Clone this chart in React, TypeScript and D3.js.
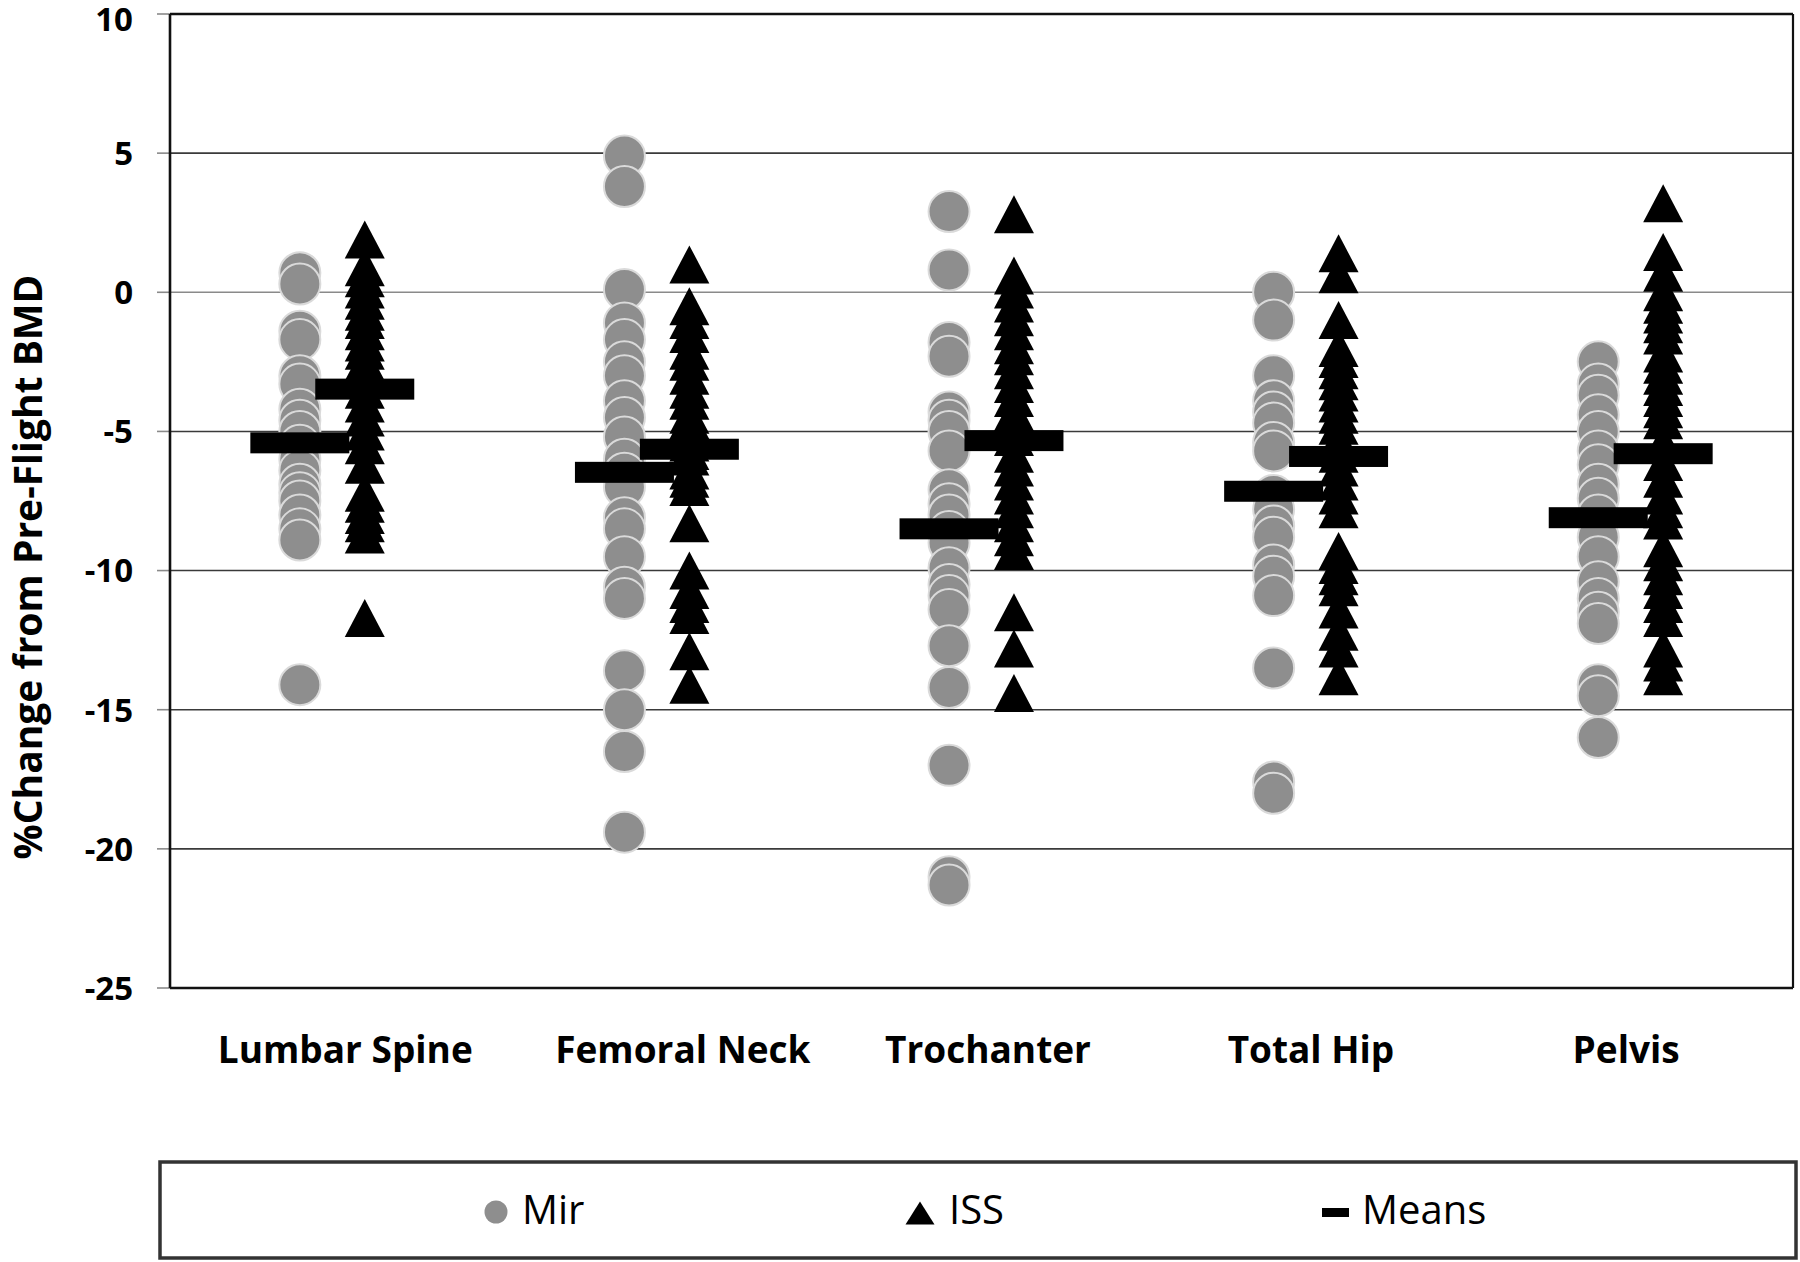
import React from "react";
import * as d3 from "d3";

const categories = ["Lumbar Spine", "Femoral Neck", "Trochanter", "Total Hip", "Pelvis"];

const mirLumbar = [0.7, 0.3, -1.4, -1.7, -3.0, -3.3, -4.2, -4.6, -5.0, -5.5, -6.0, -6.4, -6.9, -7.2, -7.5, -8.0, -8.5, -8.9, -14.1];
const mirFemoral = [4.9, 3.8, 0.1, -1.1, -1.7, -2.5, -3.0, -3.9, -4.5, -5.2, -6.0, -6.5, -7.0, -8.1, -8.5, -9.5, -10.6, -11.0, -13.6, -15.0, -16.5, -19.4];
const mirTroch = [2.9, 0.8, -1.8, -2.3, -4.3, -4.6, -5.0, -5.7, -7.1, -7.6, -8.0, -8.6, -9.0, -9.9, -10.5, -10.9, -11.4, -12.7, -14.2, -17.0, -21.0, -21.3];
const mirHip = [0.0, -1.0, -3.0, -3.9, -4.3, -4.7, -5.4, -5.7, -7.3, -7.8, -8.4, -8.8, -9.8, -10.2, -10.9, -13.5, -17.6, -18.0];
const mirPelvis = [-2.5, -3.3, -3.7, -4.4, -5.0, -5.7, -6.2, -6.9, -7.4, -8.0, -8.8, -9.5, -10.4, -11.0, -11.5, -11.9, -14.1, -14.5, -16.0];

const issLumbar = [1.9, 0.9, 0.5, 0.1, -0.3, -0.7, -1.0, -1.4, -1.8, -2.1, -2.5, -2.8, -3.5, -4.0, -4.5, -5.0, -5.5, -6.2, -7.2, -7.6, -8.0, -8.3, -8.7, -11.7];
const issFemoral = [1.0, -0.5, -1.0, -1.5, -2.1, -2.5, -3.0, -3.5, -3.9, -4.4, -4.6, -4.9, -5.4, -5.7, -5.9, -6.4, -6.7, -7.0, -8.3, -10.0, -10.7, -11.2, -11.6, -12.9, -14.1];
const issTroch = [2.8, 0.6, 0.1, -0.4, -0.9, -1.4, -1.9, -2.3, -2.8, -3.3, -3.8, -4.3, -5.2, -5.8, -6.3, -6.8, -7.3, -7.8, -8.3, -8.8, -9.3, -11.5, -12.8, -14.4];
const issHip = [1.4, 0.65, -1.0, -2.0, -2.4, -2.8, -3.2, -3.6, -4.0, -4.4, -4.8, -5.3, -5.8, -6.3, -6.8, -7.3, -7.8, -9.3, -9.8, -10.2, -10.6, -11.4, -12.2, -12.8, -13.8];
const issPelvis = [3.2, 1.45, 0.7, 0.0, -0.45, -0.8, -1.15, -1.55, -2.2, -2.6, -3.0, -3.4, -3.8, -4.2, -4.6, -5.4, -6.1, -6.7, -7.3, -7.8, -8.2, -9.2, -9.7, -10.2, -10.7, -11.2, -11.7, -12.8, -13.3, -13.8];

const mirMeans = [-5.41, -6.47, -8.5, -7.15, -8.1];
const issMeans = [-3.48, -5.64, -5.33, -5.9, -5.8];

const yTicks = [10, 5, 0, -5, -10, -15, -20, -25];

const mirSeries = [mirLumbar, mirFemoral, mirTroch, mirHip, mirPelvis];
const issSeries = [issLumbar, issFemoral, issTroch, issHip, issPelvis];

// layout (in x data units)
const MIR_OFFSET = 0.4;
const ISS_OFFSET = 0.6;
const LABEL_X_UNITS = [0.54, 1.58, 2.52, 3.515, 4.486];

const W = 1800;
const H = 1262;
const left = 170;
const right = 1793;
const top = 14;
const bottom = 988;

const FONT = "'Open Sans', 'DejaVu Sans', sans-serif";

export default function App() {
  const x = d3.scaleLinear().domain([0, 5]).range([left, right]);
  const y = d3.scaleLinear().domain([-25, 10]).range([bottom, top]);

  const r = 20.5;
  const triW = 40;
  const triH = 38;
  const barW = 99;
  const barH = 21;

  const tri = (cx: number, cy: number, w: number, h: number) =>
    `M${cx},${cy - h / 2}L${cx + w / 2},${cy + h / 2}L${cx - w / 2},${cy + h / 2}Z`;

  return (
    <svg
      width={W}
      height={H}
      viewBox={`0 0 ${W} ${H}`}
      style={{ position: "absolute", left: 0, top: 0, background: "#fff" }}
    >
      <rect x={0} y={0} width={W} height={H} fill="#fff" />
      {/* gridlines */}
      {yTicks.map((t) => (
        <line
          key={"g" + t}
          x1={left}
          x2={right}
          y1={y(t)}
          y2={y(t)}
          stroke={t === 0 ? "#8a8a8a" : "#3a3a3a"}
          strokeWidth={1.6}
        />
      ))}
      {/* left ticks */}
      {yTicks.map((t) => (
        <line key={"t" + t} x1={157} x2={left} y1={y(t)} y2={y(t)} stroke="#8a8a8a" strokeWidth={1.6} />
      ))}
      {/* plot frame */}
      <line x1={left} x2={right} y1={y(10)} y2={y(10)} stroke="#111" strokeWidth={2.6} />
      <line x1={left} x2={right} y1={y(-25)} y2={y(-25)} stroke="#111" strokeWidth={2.6} />
      <line x1={left} x2={left} y1={y(10)} y2={y(-25)} stroke="#111" strokeWidth={2.6} />
      <line x1={right} x2={right} y1={y(10)} y2={y(-25)} stroke="#111" strokeWidth={2.2} />

      {/* y tick labels */}
      {yTicks.map((t) => (
        <text
          key={"l" + t}
          x={133}
          y={t === 10 ? y(t) + 5 : y(t)}
          dy="0.36em"
          textAnchor="end"
          fontFamily={FONT}
          fontWeight="bold"
          fontSize={33}
          fill="#000"
        >
          {t}
        </text>
      ))}

      {/* y axis title */}
      <text
        transform={`translate(42, 567) rotate(-90)`}
        textAnchor="middle"
        fontFamily={FONT}
        fontWeight="bold"
        fontSize={39}
        fill="#000"
      >
        %Change from Pre-Flight BMD
      </text>

      {/* Mir circles */}
      {mirSeries.map((vals, i) =>
        vals.map((v, j) => (
          <circle
            key={`m${i}-${j}`}
            cx={x(i + MIR_OFFSET)}
            cy={y(v)}
            r={r}
            fill="#8e8e8e"
            stroke="#dadada"
            strokeWidth={2}
          />
        ))
      )}

      {/* ISS triangles */}
      {issSeries.map((vals, i) =>
        vals.map((v, j) => (
          <path key={`s${i}-${j}`} d={tri(x(i + ISS_OFFSET), y(v), triW, triH)} fill="#000" />
        ))
      )}

      {/* Means */}
      {mirMeans.map((v, i) => (
        <rect
          key={"mm" + i}
          x={x(i + MIR_OFFSET) - barW / 2}
          y={y(v) - barH / 2}
          width={barW}
          height={barH}
          fill="#000"
        />
      ))}
      {issMeans.map((v, i) => (
        <rect
          key={"im" + i}
          x={x(i + ISS_OFFSET) - barW / 2}
          y={y(v) - barH / 2}
          width={barW}
          height={barH}
          fill="#000"
        />
      ))}

      {/* category labels */}
      {categories.map((c, i) => (
        <text
          key={c}
          x={x(LABEL_X_UNITS[i])}
          y={1063}
          textAnchor="middle"
          fontFamily={FONT}
          fontWeight="bold"
          fontSize={37}
          fill="#000"
        >
          {c}
        </text>
      ))}

      {/* legend */}
      <rect x={160} y={1162} width={1636} height={96} fill="#fff" stroke="#333" strokeWidth={3.5} />
      <circle cx={496} cy={1212} r={11.5} fill="#8e8e8e" />
      <text x={522} y={1224} fontFamily={FONT} fontSize={40} fill="#000">
        Mir
      </text>
      <path d={tri(920, 1213, 29, 23)} fill="#000" />
      <text x={949} y={1224} fontFamily={FONT} fontSize={40} fill="#000">
        ISS
      </text>
      <rect x={1322} y={1208} width={27} height={9} fill="#000" />
      <text x={1362} y={1224} fontFamily={FONT} fontSize={40} fill="#000">
        Means
      </text>
    </svg>
  );
}
